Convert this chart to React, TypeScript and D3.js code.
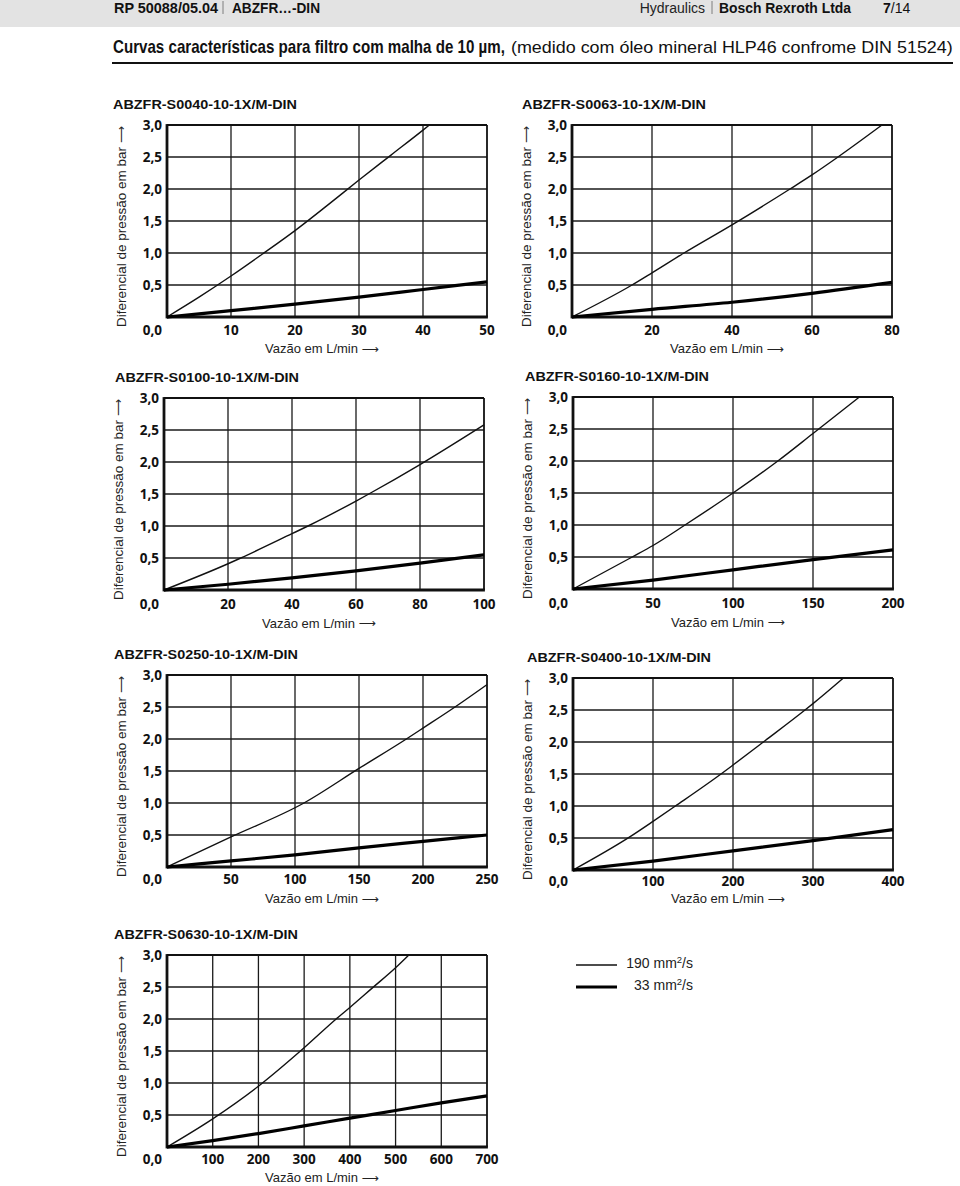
import React from "react";
import * as d3 from "d3";

// ---------- data ----------
const pressureTicks = [0, 0.5, 1, 1.5, 2, 2.5, 3];
const pressureLabels = ["0,0", "0,5", "1,0", "1,5", "2,0", "2,5", "3,0"];

const models = [
  "ABZFR-S0040-10-1X/M-DIN",
  "ABZFR-S0063-10-1X/M-DIN",
  "ABZFR-S0100-10-1X/M-DIN",
  "ABZFR-S0160-10-1X/M-DIN",
  "ABZFR-S0250-10-1X/M-DIN",
  "ABZFR-S0400-10-1X/M-DIN",
  "ABZFR-S0630-10-1X/M-DIN",
];

const flowMax = [50, 80, 100, 200, 250, 400, 700];

const flowTicksS0040 = [10, 20, 30, 40, 50];
const flowTicksS0063 = [20, 40, 60, 80];
const flowTicksS0100 = [20, 40, 60, 80, 100];
const flowTicksS0160 = [50, 100, 150, 200];
const flowTicksS0250 = [50, 100, 150, 200, 250];
const flowTicksS0400 = [100, 200, 300, 400];
const flowTicksS0630 = [100, 200, 300, 400, 500, 600, 700];

// [flow L/min, Δp bar] — 190 mm²/s (thin) and 33 mm²/s (thick)
const s0040v190 = [[0, 0], [5, 0.31], [10, 0.64], [15, 0.99], [20, 1.35], [25, 1.74], [30, 2.14], [35, 2.53], [40, 2.92], [41, 3.0]];
const s0040v33 = [[0, 0], [10, 0.1], [20, 0.2], [30, 0.31], [40, 0.43], [50, 0.55]];

const s0063v190 = [[0, 0], [15, 0.5], [20, 0.69], [28, 1.0], [40, 1.44], [54.5, 2.0], [60, 2.22], [66.5, 2.5], [77.5, 3.0]];
const s0063v33 = [[0, 0], [20, 0.12], [40, 0.23], [60, 0.37], [80, 0.54]];

const s0100v190 = [[0, 0], [20, 0.41], [24, 0.5], [40, 0.88], [45, 1.0], [60, 1.39], [64, 1.5], [80, 1.96], [100, 2.58]];
const s0100v33 = [[0, 0], [20, 0.09], [40, 0.19], [60, 0.3], [80, 0.42], [100, 0.55]];

const s0160v190 = [[0, 0], [37, 0.5], [50, 0.68], [70, 1.0], [100, 1.5], [128, 2.0], [150, 2.43], [179, 3.0]];
const s0160v33 = [[0, 0], [50, 0.14], [100, 0.3], [150, 0.46], [200, 0.61]];

const s0250v190 = [[0, 0], [50, 0.47], [107, 1.0], [150, 1.54], [187, 2.0], [200, 2.17], [225, 2.5], [250, 2.85]];
const s0250v33 = [[0, 0], [50, 0.095], [100, 0.19], [150, 0.3], [200, 0.4], [250, 0.5]];

const s0400v190 = [[0, 0], [70, 0.51], [100, 0.76], [128, 1.0], [185, 1.5], [200, 1.64], [240, 2.02], [290, 2.5], [300, 2.6], [338, 3.0]];
const s0400v33 = [[0, 0], [100, 0.14], [200, 0.3], [300, 0.46], [400, 0.63]];

const s0630v190 = [[0, 0], [100, 0.44], [200, 0.95], [300, 1.55], [370, 2.0], [400, 2.18], [450, 2.49], [500, 2.8], [529, 3.0]];
const s0630v33 = [[0, 0], [100, 0.1], [200, 0.21], [300, 0.33], [400, 0.45], [500, 0.57], [600, 0.69], [700, 0.8]];

const flowTicks = [flowTicksS0040, flowTicksS0063, flowTicksS0100, flowTicksS0160, flowTicksS0250, flowTicksS0400, flowTicksS0630];
const curves190 = [s0040v190, s0063v190, s0100v190, s0160v190, s0250v190, s0400v190, s0630v190];
const curves33 = [s0040v33, s0063v33, s0100v33, s0160v33, s0250v33, s0400v33, s0630v33];

const legendLabels = ["190", "33"];

// ---------- layout ----------
const PW = 320;
const PH = 192;
const layout = [
  { left: 167, top: 125, titleX: 113, labelDy: 12.5, axisDy: 31.5 },
  { left: 572, top: 125, titleX: 522, labelDy: 12.5, axisDy: 31.5 },
  { left: 164, top: 398, titleX: 115, labelDy: 13.5, axisDy: 33 },
  { left: 573, top: 397, titleX: 525, labelDy: 13.5, axisDy: 33 },
  { left: 167, top: 675, titleX: 114, labelDy: 11.8, axisDy: 31.5 },
  { left: 573, top: 678, titleX: 527, labelDy: 11, axisDy: 28.5 },
  { left: 167, top: 955, titleX: 114, labelDy: 11.8, axisDy: 30.5 },
];

const TICK_FONT = "'Open Sans', 'Noto Sans', sans-serif";
const SANS = "'Liberation Sans', Arial, Helvetica, sans-serif";
const ARROW_FONT = "'DejaVu Sans', sans-serif";

function Chart({ i }: { i: number }) {
  const L = layout[i];
  const x = d3.scaleLinear().domain([0, flowMax[i]]).range([L.left, L.left + PW]);
  const y = d3.scaleLinear().domain([0, 3]).range([L.top + PH, L.top]);
  const line = d3
    .line<number[]>()
    .x((d) => x(d[0]))
    .y((d) => y(d[1]))
    .curve(d3.curveMonotoneX);
  const bottom = L.top + PH;
  return (
    <g>
      <text x={L.titleX} y={L.top - 20.5} dominantBaseline="central" fontFamily={SANS} fontWeight="bold" fontSize={13} textLength={184} lengthAdjust="spacingAndGlyphs" fill="#111">
        {models[i]}
      </text>
      {/* horizontal grid */}
      {pressureTicks.slice(1, -1).map((v) => (
        <line key={"h" + v} x1={L.left} x2={L.left + PW} y1={y(v)} y2={y(v)} stroke="#1a1a1a" strokeWidth={1.3} />
      ))}
      {/* vertical grid */}
      {flowTicks[i].slice(0, -1).map((v) => (
        <line key={"v" + v} x1={x(v)} x2={x(v)} y1={L.top} y2={bottom} stroke="#1a1a1a" strokeWidth={1.3} />
      ))}
      {/* frame */}
      <line x1={L.left} x2={L.left + PW} y1={L.top} y2={L.top} stroke="#111" strokeWidth={1.8} />
      <line x1={L.left + PW} x2={L.left + PW} y1={L.top} y2={bottom} stroke="#111" strokeWidth={1.8} />
      <line x1={L.left} x2={L.left} y1={L.top - 0.9} y2={bottom + 1.4} stroke="#111" strokeWidth={2.8} />
      <line x1={L.left} x2={L.left + PW + 0.9} y1={bottom} y2={bottom} stroke="#111" strokeWidth={2.8} />
      {/* curves */}
      <path d={line(curves190[i]) || ""} fill="none" stroke="#111" strokeWidth={1.4} />
      <path d={line(curves33[i]) || ""} fill="none" stroke="#000" strokeWidth={3.2} />
      {/* y tick labels */}
      {pressureTicks.map((v, k) => (
        <text key={"yl" + v} x={L.left - 5} y={v === 0 ? bottom + L.labelDy : y(v)} textAnchor="end" dominantBaseline="central" fontFamily={TICK_FONT} fontWeight={700} fontSize={13.5} fill="#111">
          {pressureLabels[k]}
        </text>
      ))}
      {/* x tick labels */}
      {flowTicks[i].map((v) => (
        <text key={"xl" + v} x={x(v)} y={bottom + L.labelDy} textAnchor="middle" dominantBaseline="central" fontFamily={TICK_FONT} fontWeight={700} fontSize={13.5} fill="#111">
          {v}
        </text>
      ))}
      {/* axis titles */}
      <text x={L.left + 98} y={bottom + L.axisDy} dominantBaseline="central" fontFamily={SANS} fontSize={13} fill="#222">
        Vazão em L/min <tspan fontFamily={ARROW_FONT} fontSize={12}>⟶</tspan>
      </text>
      <text transform={`translate(${L.left - 46},${L.top + 101.5}) rotate(-90)`} textAnchor="middle" dominantBaseline="central" fontFamily={SANS} fontSize={13.5} fill="#222">
        Diferencial de pressão em bar <tspan fontFamily={ARROW_FONT} fontSize={12}>⟶</tspan>
      </text>
    </g>
  );
}

export default function App() {
  return (
    <div style={{ position: "absolute", left: 0, top: 0 }}>
      <svg width={960} height={1186} viewBox="0 0 960 1186" style={{ display: "block", background: "#fff" }}>
        {/* header band */}
        <rect x={0} y={0} width={960} height={27} fill="#e3e3e3" />
        <text x={114} y={12.5} fontFamily={SANS} fontWeight="bold" fontSize={14} textLength={104} lengthAdjust="spacingAndGlyphs" fill="#111">RP 50088/05.04</text>
        <line x1={223} x2={223} y1={1} y2={14} stroke="#666" strokeWidth={0.8} />
        <text x={232} y={12.5} fontFamily={SANS} fontWeight="bold" fontSize={14} textLength={88} lengthAdjust="spacingAndGlyphs" fill="#111">ABZFR…-DIN</text>
        <text x={705} y={12.5} textAnchor="end" fontFamily={SANS} fontSize={14} fill="#222">Hydraulics</text>
        <line x1={712} x2={712} y1={1} y2={14} stroke="#666" strokeWidth={0.8} />
        <text x={719} y={12.5} fontFamily={SANS} fontWeight="bold" fontSize={14} textLength={132} lengthAdjust="spacingAndGlyphs" fill="#111">Bosch Rexroth Ltda</text>
        <text x={883} y={12.5} fontFamily={SANS} fontSize={14} fill="#111">
          <tspan fontWeight="bold">7</tspan>/14
        </text>

        {/* title */}
        <text transform="translate(113,53) scale(0.795,1)" fontFamily={SANS} fontWeight="bold" fontSize={19} textLength={493} lengthAdjust="spacingAndGlyphs" fill="#111">
          Curvas características para filtro com malha de 10 µm,
        </text>
        <text transform="translate(511,53) scale(0.93,1)" fontFamily={SANS} fontSize={17} textLength={475} lengthAdjust="spacingAndGlyphs" fill="#111">
          (medido com óleo mineral HLP46 confrome DIN 51524)
        </text>
        <line x1={112} x2={953} y1={63} y2={63} stroke="#111" strokeWidth={1.8} />

        {models.map((_, i) => (
          <Chart key={i} i={i} />
        ))}

        {/* legend */}
        <line x1={576} x2={617} y1={965} y2={965} stroke="#111" strokeWidth={1.4} />
        <line x1={576} x2={617} y1={987} y2={987} stroke="#000" strokeWidth={3.2} />
        <text x={693} y={968} textAnchor="end" fontFamily={SANS} fontSize={14} fill="#222">
          {legendLabels[0]} mm<tspan dy={-5} fontSize={9.5}>2</tspan><tspan dy={5}>/s</tspan>
        </text>
        <text x={693} y={990} textAnchor="end" fontFamily={SANS} fontSize={14} fill="#222">
          {legendLabels[1]} mm<tspan dy={-5} fontSize={9.5}>2</tspan><tspan dy={5}>/s</tspan>
        </text>
      </svg>
    </div>
  );
}
